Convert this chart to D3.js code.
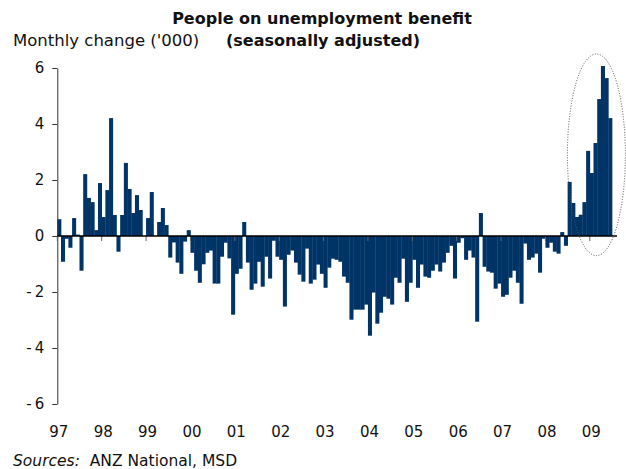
<!DOCTYPE html>
<html><head><meta charset="utf-8">
<script src="https://cdn.jsdelivr.net/npm/d3@7"></script>
<style>
html,body{margin:0;padding:0;background:#fff;}
svg{display:block;}
text{font-family:"DejaVu Sans",Verdana,sans-serif;fill:#111;}
</style></head>
<body>
<svg id="chart" width="626" height="469"></svg>
<script>
// Monthly change in people on unemployment benefit ('000), Jan 1997 – Jun 2009
const months = d3.range(150); // month index from Jan 1997
const values = [
 0.6,-0.92,-0.1,-0.42,0.64,0.05,-1.24,2.21,1.36,1.21,0.21,1.89,
 0.68,1.64,4.21,0.75,-0.56,0.75,2.61,1.68,0.82,1.46,0.93,0,
 0.64,1.57,0,0.5,1.0,0.39,-0.77,-0.23,-0.95,-1.35,-0.2,0.21,
 -0.6,-1.24,-1.67,-1.01,-0.6,-0.52,-1.7,-1.7,-0.74,-0.24,-0.8,-2.81,
 -1.35,-1.17,0.5,-0.95,-1.92,-1.7,-0.92,-1.81,-0.74,-1.52,-0.17,-0.74,
 -0.85,-2.52,-0.67,-0.52,-0.95,-1.38,-1.63,-0.45,-1.7,-1.56,-1.02,-1.35,
 -1.85,-1.13,-0.81,-0.85,-0.92,-1.45,-1.67,-2.99,-2.63,-2.63,-2.63,-2.45,
 -3.56,-2.02,-3.13,-2.74,-2.17,-2.24,-2.45,-1.49,-1.67,-0.81,-2.35,-1.67,
 -0.85,-1.85,-1.02,-1.45,-1.49,-1.24,-1.02,-1.27,-0.95,-0.6,-0.35,-1.52,
 -0.24,-0.08,-0.85,-0.52,-0.77,-3.06,0.82,-1.1,-1.27,-1.31,-1.88,-1.7,
 -2.17,-2.1,-1.49,-1.24,-1.67,-2.42,-0.27,-0.85,-0.77,-0.63,-1.31,-0.1,
 -0.42,-0.24,-0.56,-0.63,0.14,-0.35,1.93,1.18,0.68,0.76,1.21,3.04,
 2.25,3.32,4.89,6.07,5.64,4.21
];
const yearStarts = [0,12,24,36,48,60,72,84,96,108,120,132,144];
const yearLabels = ["97","98","99","00","01","02","03","04","05","06","07","08","09"];
const yTicks = [-6,-4,-2,0,2,4,6];
const highlight = [144,149]; // months circled
const titleLines = ["People on unemployment benefit","(seasonally adjusted)"];
const unitLabel = "Monthly change ('000)";

const svg = d3.select("#chart");
const x = d3.scaleBand().domain(months).range([57.3, 612]).padding(0);
const y = d3.scaleLinear().domain([-6, 6]).range([404, 68]);
const barColor = "#003366";

// bars
svg.append("g").selectAll("rect").data(months).join("rect")
  .attr("x", d => x(d))
  .attr("width", x.bandwidth() + 0.35)
  .attr("y", d => y(Math.max(0, values[d])))
  .attr("height", d => Math.abs(y(values[d]) - y(0)))
  .attr("fill", barColor);

// y axis
const yAxis = svg.append("g").attr("transform", `translate(${x.range()[0]},0)`)
  .call(d3.axisLeft(y).tickValues(yTicks).tickSize(5).tickSizeOuter(0).tickPadding(8)
        .tickFormat(d => d < 0 ? "-\u2009" + Math.abs(d) : String(d)));
yAxis.select(".domain").attr("stroke", "#333");
yAxis.selectAll(".tick line").attr("stroke", "#333");
yAxis.selectAll(".tick text").style("font-size", "15px").attr("fill", "#111")
  .style("font-family", '"DejaVu Sans",Verdana,sans-serif');

// zero line with year ticks
const xAxis = svg.append("g").attr("transform", `translate(0,${y(0)})`)
  .call(d3.axisBottom(x).tickValues(yearStarts).tickSize(5).tickSizeOuter(0).tickFormat(""));
xAxis.select(".domain").remove();
xAxis.selectAll(".tick").attr("transform", d => `translate(${x(d)},0)`);
xAxis.selectAll(".tick line").attr("stroke", "#666");
svg.append("line").attr("x1", x.range()[0]).attr("x2", 617)
  .attr("y1", y(0)).attr("y2", y(0)).attr("stroke", "#000").attr("stroke-width", 1.4);

// year labels
svg.append("g").selectAll("text").data(yearStarts).join("text")
  .attr("x", (d) => x(d) + 1.5)
  .attr("y", 437)
  .attr("text-anchor", "middle")
  .style("font-size", "15px")
  .text((d, i) => yearLabels[i]);

// highlight ellipse
const ex0 = x(highlight[0]), ex1 = x(highlight[1]) + x.bandwidth();
svg.append("ellipse")
  .attr("cx", (ex0 + ex1) / 2 - 4.5)
  .attr("cy", (y(6.5) + y(-0.7)) / 2)
  .attr("rx", 29)
  .attr("ry", (y(-0.7) - y(6.5)) / 2)
  .attr("fill", "none").attr("stroke", "#555").attr("stroke-width", 1)
  .attr("stroke-dasharray", "1,1.6");

// titles
svg.append("text").attr("x", 322).attr("y", 24).attr("text-anchor", "middle")
  .style("font-size", "16px").style("font-weight", "bold").text(titleLines[0]);
svg.append("text").attr("x", 323).attr("y", 46).attr("text-anchor", "middle")
  .style("font-size", "16px").style("font-weight", "bold").text(titleLines[1]);
svg.append("text").attr("x", 13).attr("y", 46)
  .style("font-size", "16.5px").text(unitLabel);

// sources
const src = svg.append("text").attr("x", 13).attr("y", 466).style("font-size", "15.5px");
src.append("tspan").style("font-style", "italic").text("Sources:");
src.append("tspan").text("\u00a0 ANZ National, MSD");
</script>
</body></html>
